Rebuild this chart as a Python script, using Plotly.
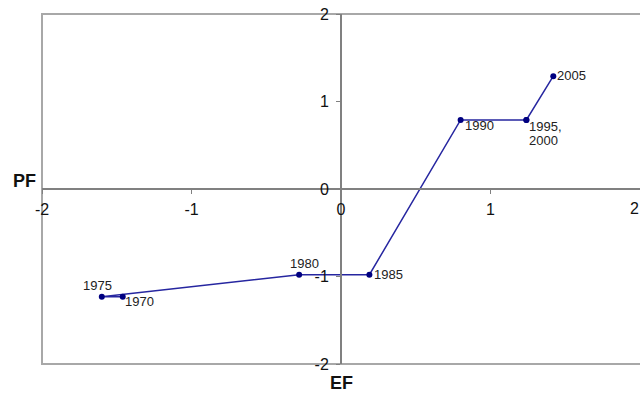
import plotly.graph_objects as go

years = ["1970", "1975", "1980", "1985", "1990", "1995", "2000", "2005"]
ef = [-1.46, -1.60, -0.28, 0.19, 0.80, 1.24, 1.24, 1.42]
pf = [-1.23, -1.23, -0.98, -0.98, 0.79, 0.79, 0.79, 1.29]
point_labels = ["1970", "1975", "1980", "1985", "1990", "1995,", "2000", "2005"]
tick_vals = [-2, -1, 0, 1, 2]
tick_text = ["-2", "-1", "0", "1", "2"]

# label placement (anchor, x pixel shift, y pixel shift) per point
label_style = [("left", 1.5, -5), ("center", -4, 11), ("center", 5, 11), ("left", 4, 0),
               ("left", 3, -6), ("left", 1.5, -7), ("left", 1.5, -21), ("left", 3, 0.5)]

FONT = "Liberation Sans, Arial, sans-serif"

fig = go.Figure()
fig.add_trace(go.Scatter(
    x=ef, y=pf, mode="lines+markers",
    line=dict(color="#2626A0", width=1.5),
    marker=dict(color="#000080", size=6),
    hoverinfo="skip", cliponaxis=False,
))

axis_common = dict(
    range=[-2, 2], tickvals=tick_vals, ticktext=tick_text,
    showgrid=False, zeroline=False, showline=True,
    linecolor="#808080", linewidth=2,
    ticks="outside", ticklen=4, tickcolor="#808080", tickwidth=1,
    tickfont=dict(family=FONT, size=16, color="#111111"),
    anchor="free", position=0.5, fixedrange=True, automargin=False,
)
L, T, W, H = 42, 14, 598, 350

annotations = []
for xv, yv, txt, (anc, dx, dy) in zip(ef, pf, point_labels, label_style):
    annotations.append(dict(
        text=txt, x=xv, y=yv, xref="x", yref="y", showarrow=False,
        xanchor=anc, yanchor="middle", xshift=dx, yshift=dy, borderpad=0,
        font=dict(family=FONT, size=13, color="#222222"),
    ))
# rightmost x tick label, kept inside the page edge
annotations.append(dict(
    text=tick_text[-1], x=tick_vals[-1], y=0, xref="x", yref="y", showarrow=False,
    xanchor="right", yanchor="middle", yshift=-19, borderpad=0,
    font=dict(family=FONT, size=16, color="#111111"),
))
annotations += [
    dict(text="<b>PF</b>", x=(24 - L) / W, y=(T + H - 181) / H, xref="paper", yref="paper",
         xanchor="center", yanchor="middle",
         showarrow=False, font=dict(family=FONT, size=18, color="#111111")),
    dict(text="<b>EF</b>", x=0.5, y=-19 / H, xref="paper", yref="paper",
         xanchor="center", yanchor="middle",
         showarrow=False, font=dict(family=FONT, size=18, color="#111111")),
]

fig.update_layout(
    width=640, height=395,
    margin=dict(l=L, r=640 - L - W, t=T, b=395 - T - H, autoexpand=False),
    paper_bgcolor="white", plot_bgcolor="white",
    showlegend=False,
    xaxis=dict(**axis_common, ticklabelstandoff=2),
    yaxis=dict(**axis_common, ticklabelstandoff=4),
    shapes=[dict(type="rect", xref="paper", yref="paper", x0=0, x1=1.01, y0=0, y1=1,
                 line=dict(color="#A8A8A8", width=2), layer="below")],
    annotations=annotations,
)

post = ("document.body.style.margin='0';document.body.style.overflow='hidden';"
        "var gd=document.getElementById('{plot_id}');"
        "Plotly.relayout(gd,{width:640,height:395});")
fig.write_html("out.html", config={"responsive": False, "displayModeBar": False},
               post_script=post)
